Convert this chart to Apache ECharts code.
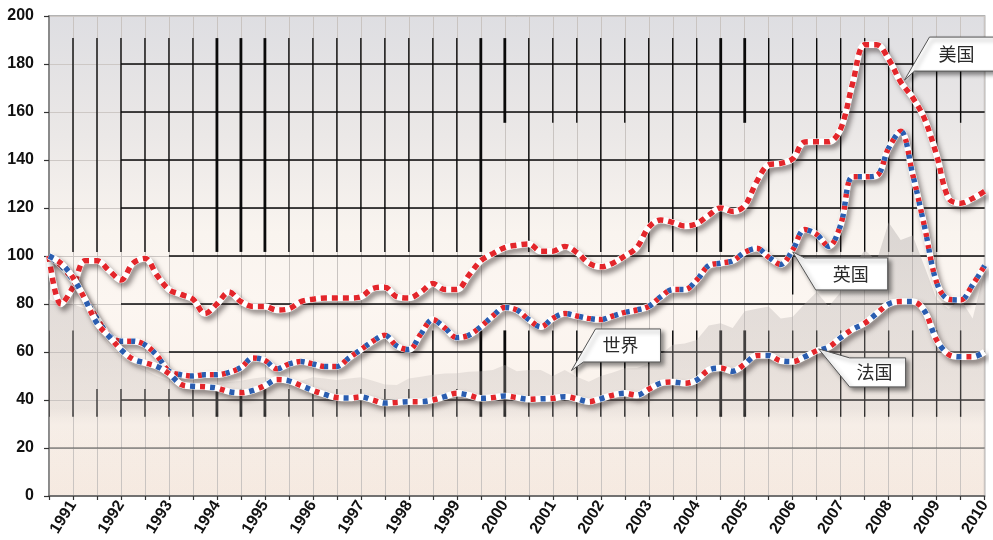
<!DOCTYPE html>
<html><head><meta charset="utf-8">
<script src="https://cdn.jsdelivr.net/npm/echarts@6/dist/echarts.min.js"></script>
<style>html,body{margin:0;padding:0;background:#fff}#c{width:993px;height:540px}</style>
</head><body><div id="c"></div>
<script>
// ---- x domain: quarterly observations, mid-1990 .. 2010 ----
const quarters = [];
for (let i = 0; i < 79; i++) quarters.push(1990.5 + i * 0.25);

// ---- series values (index) ----
const usa = [
  100, 80, 87, 98, 98, 94, 90, 97, 99, 92,
  86, 84, 82, 76, 80, 85, 81, 79, 79, 77.5,
  78, 81, 82, 82.5, 82.5, 82.5, 83, 86.5, 87, 83,
  82.5, 85, 88.5, 86, 86, 92, 98, 101, 103.5, 104.5,
  105, 102, 102, 104, 101.5, 97, 95.5, 97, 100, 103.5,
  112, 115, 114, 112.5, 113.5, 117, 120, 118.5, 121, 131,
  138, 138.6, 140.5, 147.5, 147.6, 147.6, 153, 172, 188, 188,
  182, 172.5, 166, 157, 142, 124, 122, 124, 127
];
const uk = [
  100, 96, 90, 82, 74, 67, 64.5, 64.5, 63, 58.5,
  52, 50.5, 50, 50.5, 50.5, 51.5, 53.5, 57.5, 56.5, 53,
  55, 56, 55, 54, 54, 57.5, 61, 64.5, 67, 62.5,
  61, 67.5, 73.5, 70, 66, 67, 70.5, 75, 78.5, 77.5,
  73.5, 70.5, 74, 76, 75, 74, 73.5, 75, 76.5, 77.5,
  79, 83, 86, 86, 90, 96, 97, 98, 101.5, 103.2,
  99.5, 96.5, 102.5, 111, 109, 104, 113, 133, 133, 133.5,
  145, 152, 134, 112, 89, 82, 81.7, 88, 96
];
const france = [
  100, 97, 91, 82, 72, 66.5, 61, 57, 55.5, 54,
  51, 46.5, 45.7, 45.5, 45, 43.5, 43, 44, 46, 48.5,
  48, 46, 44, 42.3, 41, 40.8, 41.3, 40, 38.7, 39,
  39.3, 39.3, 40, 41.4, 42.8, 42, 40.7, 41, 41.7, 41,
  40.3, 40.5, 40.7, 41.4, 40.5, 39.3, 40.5, 42, 42.8, 42,
  44.5, 47, 47.5, 47, 48.3, 52.5, 53.3, 52, 55, 58.5,
  58.5, 56.3, 56, 58, 60.5, 62, 66, 69.5, 72, 76,
  80, 81, 81, 77, 65, 59, 58, 58, 60
];
const world = [
  82, 80, 80, 78, 70, 63, 58, 55, 52.5, 50,
  48, 47, 46.5, 46.5, 47, 47.5, 48, 49, 49.6, 48,
  47.6, 48, 49.5, 49, 48.3, 49, 49.5, 48, 46.5, 46.2,
  49, 49.7, 50.5, 51, 51.1, 51.8, 52, 52.5, 54.6, 52,
  52.5, 52.5, 50, 52.5, 49.7, 47.6, 50, 51.5, 53.2, 53.3,
  55, 59, 63, 63.5, 65, 71, 72, 70, 77, 78,
  79, 74, 74.7, 80, 85, 79, 85, 95, 102.5, 98,
  114, 106.7, 108.5, 95.5, 82, 78, 82, 74, 94
];

// ---- axis ticks ----
const yTicks = [0, 20, 40, 60, 80, 100, 120, 140, 160, 180, 200];
const yearLabels = ['1991','1992','1993','1994','1995','1996','1997','1998','1999','2000',
  '2001','2002','2003','2004','2005','2006','2007','2008','2009','2010'];

// ---- callouts (name, anchor year, anchor value) ----
const calloutNames = ['美国', '英国', '法国', '世界'];
const calloutYear  = [2008.33, 2006.0, 2006.54, 2001.39];
const calloutValue = [173.3, 101.7, 61.3, 52.3];

// ---- decorative black grid (data coordinates) ----
const hLineValues = [180, 160, 140, 120, 100, 80, 60, 40];
const hLineFrom   = [1992, 1992, 1992, 1992, 1993, 1992, 1993, 1992];
const upperTicks = [1991,1991.5,1992,1992.5,1993,1993.5,1994,1994.5,1995,1995.5,1996,1996.5,1997,1997.5,
  1998,1998.5,1999,1999.5,2000,2000.5,2001,2001.5,2002,2002.5,2003,2003.5,2004,2004.5,2005,2005.5,
  2006,2006.5,2007,2007.5,2008,2008.5,2009,2009.5];
const upperShort = [2000, 2001, 2001.5, 2002.5, 2005, 2009.5];
const upperLong = [2006];
const lowerLong = [1990.5,1991,1998.5,1999.5,2000,2000.5,2001,2001.5,2002,2002.5,2003,2003.5,2004,
  2004.5,2005,2005.5,2006,2006.5,2007,2007.5,2008,2008.5,2009,2009.5];
const lowerShort = [1991.5,1992,1992.5,1993,1993.5,1994,1994.5,1995,1995.5,1996,1996.5,1997,1997.5,1998,1999];
const thickTicks = [1994, 1994.5, 1995, 1999.5, 2000, 2004.5, 2005];

const decor = [];
hLineValues.forEach((v, i) => decor.push([hLineFrom[i], v, 2010, v, 1.4, 0]));
decor.push([1990.5, 20, 2010, 20, 1.2, 1]);
upperTicks.forEach(t => {
  const w = thickTicks.includes(t) ? 2.8 : 1.4;
  const bottom = upperShort.includes(t) ? 155.5 : (upperLong.includes(t) ? 84 : 101.7);
  decor.push([t, 190.8, t, bottom, w, 0]);
});
lowerLong.forEach(t => decor.push([t, 69, t, 33, thickTicks.includes(t) ? 2.8 : 1.4, 0]));
lowerShort.forEach(t => decor.push([t, 44.6, t, 33, thickTicks.includes(t) ? 2.8 : 1.4, 0]));

function pairs(arr) { return arr.map((v, i) => [quarters[i], v]); }

const shadowBase = {
  color: '#ffffff', width: 6.5,
  shadowColor: 'rgba(40,30,30,0.5)', shadowBlur: 5, shadowOffsetX: 3, shadowOffsetY: 4
};
const SM = 0.35;
function baseLine(name, data, z) {
  return { name: name, type: 'line', data: pairs(data), smooth: SM, symbol: 'none', z: z,
    lineStyle: Object.assign({}, shadowBase), silent: true };
}
function dashLine(name, data, color, dash, offset, z) {
  return { name: name, type: 'line', data: pairs(data), smooth: SM, symbol: 'none', z: z, silent: true,
    lineStyle: { color: color, width: 5.5, type: dash, dashOffset: offset, cap: 'butt' } };
}

const RED = '#e3262b', BLUE = '#2a5db0';
const labelFont = "'Liberation Sans', Arial, sans-serif";

const chart = echarts.init(document.getElementById('c'), null, { renderer: 'canvas' });
chart.setOption({
  animation: false,
  backgroundColor: '#ffffff',
  grid: {
    left: 49, right: 5, top: 16, bottom: 44, show: true,
    borderColor: '#9a9a9a', borderWidth: 1.5,
    backgroundColor: {
      type: 'linear', x: 0, y: 0, x2: 0, y2: 1,
      colorStops: [
        { offset: 0, color: '#dedee2' },
        { offset: 0.25, color: '#ebe8e7' },
        { offset: 0.45, color: '#f9f4ef' },
        { offset: 0.6, color: '#fcf6f1' },
        { offset: 0.85, color: '#f9f1ea' },
        { offset: 1, color: '#f7ebe2' }
      ]
    }
  },
  xAxis: {
    type: 'value', min: 1990.5, max: 2010, interval: 0.5,
    axisLine: { show: true, lineStyle: { color: '#555', width: 1.5 } },
    axisTick: { show: true, length: 4, lineStyle: { color: '#333', width: 1.2 } },
    splitLine: { show: true, lineStyle: { color: '#c9c4c1', width: 1 } },
    axisLabel: {
      rotate: 58, margin: 6, fontFamily: labelFont, fontWeight: 'bold', fontSize: 16, color: '#111',
      showMaxLabel: true, showMinLabel: true, hideOverlap: false,
      formatter: function (v) {
        const r = Math.round(v);
        if (Math.abs(v - r) > 1e-6) return '';
        const idx = yearLabels.indexOf(String(r));
        return idx >= 0 ? yearLabels[idx] : '';
      }
    }
  },
  yAxis: {
    type: 'value', min: yTicks[0], max: yTicks[yTicks.length - 1], interval: 20,
    axisLine: { show: true, lineStyle: { color: '#8a8a8a', width: 2 } },
    axisTick: { show: true, length: 5, lineStyle: { color: '#333', width: 1.2 } },
    splitLine: { show: true, lineStyle: { color: '#cdc8c5', width: 1 } },
    axisLabel: { margin: 15, fontFamily: labelFont, fontWeight: 'bold', fontSize: 16, color: '#111' }
  },
  series: [
    {
      name: 'grid-decor', type: 'custom', z: 1, silent: true, clip: true,
      data: decor,
      renderItem: function (params, api) {
        const p0 = api.coord([api.value(0), api.value(1)]);
        const p1 = api.coord([api.value(2), api.value(3)]);
        return {
          type: 'line',
          shape: { x1: p0[0], y1: p0[1], x2: p1[0], y2: p1[1] },
          style: { stroke: api.value(5) ? '#4a4a4a' : '#0a0a0a', lineWidth: api.value(4) }
        };
      }
    },
    {
      name: '世界', type: 'line', data: pairs(world), symbol: 'none', z: 2, silent: true,
      lineStyle: { width: 0 },
      areaStyle: {
        color: {
          type: 'linear', x: 0, y: 0, x2: 0, y2: 1,
          colorStops: [
            { offset: 0, color: 'rgba(170,165,165,0.55)' },
            { offset: 0.5, color: 'rgba(185,178,176,0.45)' },
            { offset: 0.68, color: 'rgba(195,188,185,0.38)' },
            { offset: 0.74, color: 'rgba(215,205,200,0.12)' },
            { offset: 1, color: 'rgba(220,205,195,0.08)' }
          ]
        }
      }
    },
    baseLine('美国', usa, 3),
    dashLine('美国', usa, RED, [6, 5], 0, 4),
    baseLine('英国', uk, 5),
    dashLine('英国', uk, RED, [4, 8], 0, 6),
    dashLine('英国', uk, BLUE, [4, 8], 8, 6),
    baseLine('法国', france, 7),
    dashLine('法国', france, BLUE, [5, 15], 0, 8),
    dashLine('法国', france, RED, [5, 15], 10, 8)
  ]
});

// ---- callouts anchored to data coordinates ----
const calloutShapes = [
  { poly: [[25,-43],[95,-43],[95,-9],[10,-9],[0,0]], text: [52,-26] },
  { poly: [[0,0],[12,6],[95,6],[95,38],[23,38]], text: [58,22] },
  { poly: [[0,0],[31,9],[87,9],[87,38],[31,38]], text: [56,23] },
  { poly: [[24,-41.5],[89,-41.5],[89,-8.5],[12,-8.5],[0,0]], text: [49,-25] }
];
const graphics = [];
calloutNames.forEach((name, i) => {
  const p = chart.convertToPixel({ gridIndex: 0 }, [calloutYear[i], calloutValue[i]]);
  const s = calloutShapes[i];
  graphics.push({
    type: 'polygon', z: 100,
    shape: { points: s.poly.map(q => [p[0] + q[0], p[1] + q[1]]) },
    style: { fill: '#ffffff', stroke: '#555', lineWidth: 1,
      shadowColor: 'rgba(0,0,0,0.45)', shadowBlur: 4, shadowOffsetX: 3, shadowOffsetY: 3 }
  });
  graphics.push({
    type: 'text', z: 101, x: p[0] + s.text[0], y: p[1] + s.text[1],
    style: { text: name, fill: '#2a2a2a', fontSize: 18, fontFamily: "'Noto Sans CJK SC', sans-serif",
      align: 'center', verticalAlign: 'middle' }
  });
});
chart.setOption({ graphic: graphics });
</script>
</body></html>
